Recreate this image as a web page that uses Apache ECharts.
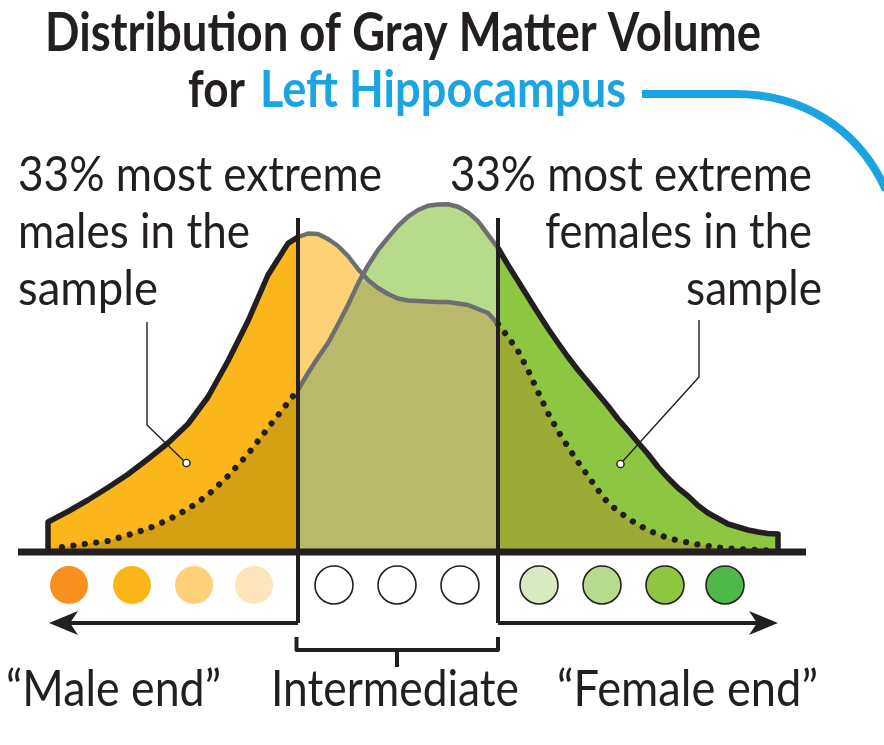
<!DOCTYPE html>
<html><head><meta charset="utf-8">
<script src="https://cdn.jsdelivr.net/npm/echarts@6/dist/echarts.min.js"></script>
<style>html,body{margin:0;padding:0;background:#fff}#c{width:884px;height:745px}</style>
</head><body><div id="c"></div>
<script>
// ---- data ----
const volume = [0,2,4,6,8,10,12,14,16,18,20,22,24,
  25,26,27,28,29,30,31,32,33,34,35,36,37,38,39,40,41,42,43,44,45,46,47,48,49,
  50,51,52,53,54,55,56,57,58,59,60,61,62,63,64,65,66,67,68,69,70,71,72,73];
const maleDensity = [29,39.5,51,63.5,76.7,92,108,127,154,190,230,276,307.6,
  314,317.5,317,312,305,295,282,271,263,257,252.5,250.5,250,249.5,249,249,247.5,246,242,238,227,214,200,181,159,
  138,120,104,89,75,61,48,40,32.5,26.5,21,16.5,13,10.5,8.5,6.5,5,3.5,2.5,2,1.5,1,0.5,0.3];
const femaleDensity = [2,4.8,7.4,10,16,22.3,31,42,56,75,97,123,148.5,
  161,178,193.4,208,226.5,246,267.4,285.6,301,313.4,325,334.3,341,345.2,346.4,346.8,344.3,338.6,329.8,316.3,303,286,270,254,238,
  222.5,208,194,181,169,157,145,132,120.5,108.5,97,84,73,63,55,45.5,38,32.5,27,24,21,19,17.5,17];
const cutLow = 25, cutHigh = 45;           // 33% most extreme boundaries
const scaleDots = [2.1,8.4,14.6,20.6, 28.6,34.9,41.2, 49.1,55.4,61.7,67.7];
const dotColors = ['#F7901E','#FBB518','#FED07A','#FEE6BC','#FFFFFF','#FFFFFF','#FFFFFF','#D9EAC0','#B8DA8E','#8DC63F','#4FB848'];
const dotStroke = [null,null,null,null,'#231F20','#231F20','#231F20','#231F20','#231F20','#231F20','#231F20'];
const titleLine1 = 'Distribution of Gray Matter Volume';
const titleFor = 'for';
const titleRegion = 'Left Hippocampus';
const maleNote = ['33% most extreme','males in the','sample'];
const femaleNote = ['33% most extreme','females in the','sample'];
const endLabels = ['\u201CMale end\u201D','Intermediate','\u201CFemale end\u201D'];

// ---- helpers ----
const minDensity = volume.map((_, i) => Math.min(maleDensity[i], femaleDensity[i]));
function interp(arr, x) {
  for (let i = 0; i < volume.length - 1; i++) {
    if (x >= volume[i] && x <= volume[i + 1]) {
      const t = (x - volume[i]) / (volume[i + 1] - volume[i]);
      return arr[i] + t * (arr[i + 1] - arr[i]);
    }
  }
  return arr[arr.length - 1];
}
function seg(arr, a, b) {
  const pts = [[a, interp(arr, a)]];
  for (let i = 0; i < volume.length; i++) if (volume[i] > a && volume[i] < b) pts.push([volume[i], arr[i]]);
  pts.push([b, interp(arr, b)]);
  return pts;
}
const INK = '#231F20', GRAY = '#6D6E71', BLUE = '#1AA5E2';

function renderItem(params, api) {
  const P = (x, y) => api.coord([x, y]);
  const ch = [];
  const poly = (pts, fill) => ch.push({ type: 'polygon', shape: { points: pts }, style: { fill: fill } });
  const line = (pts, stroke, w, dash) => ch.push({ type: 'polyline', shape: { points: pts },
    style: { stroke: stroke, lineWidth: w, fill: null, lineDash: dash || null, lineCap: dash ? 'round' : 'butt', lineJoin: 'round' } });
  const area = (arr, a, b) => [P(a, 0)].concat(seg(arr, a, b).map(p => P(p[0], p[1])), [P(b, 0)]);
  const curve = (arr, a, b) => seg(arr, a, b).map(p => P(p[0], p[1]));
  const x0 = volume[0], x1 = volume[volume.length - 1];
  // fills
  poly(area(maleDensity, x0, cutLow), '#FBB61B');
  poly(area(femaleDensity, x0, cutLow), '#D5A114');
  poly(area(maleDensity, cutLow, cutHigh), '#FDD275');
  poly(area(femaleDensity, cutLow, cutHigh), '#B7DB8B');
  poly(area(minDensity, cutLow, cutHigh), '#B8BA6A');
  poly(area(femaleDensity, cutHigh, x1), '#8DC641');
  poly(area(maleDensity, cutHigh, x1), '#9CAA36');
  // outlines
  const dots = [0.01, 11.5];
  line(curve(femaleDensity, 1.4, cutLow), INK, 6.2, dots);
  line(curve(maleDensity, cutHigh, 72), INK, 6.2, dots);
  line(curve(maleDensity, cutLow, cutHigh), GRAY, 4.5);
  line(curve(femaleDensity, cutLow, cutHigh), GRAY, 4.5);
  line([P(x0, 0)].concat(curve(maleDensity, x0, cutLow)), INK, 5.5);
  line(curve(femaleDensity, cutHigh, x1).concat([P(x1, 0)]), INK, 5.5);
  // dividers and baseline
  line([P(cutLow, 333), P(cutLow, -72)], INK, 4);
  line([P(cutHigh, 333), P(cutHigh, -72)], INK, 4);
  line([P(-3, -1), P(75.8, -1)], INK, 7);
  // scale dots
  scaleDots.forEach((x, i) => {
    const c = P(x, -34);
    ch.push({ type: 'circle', shape: { cx: c[0], cy: c[1], r: 19 },
      style: { fill: dotColors[i], stroke: dotStroke[i], lineWidth: dotStroke[i] ? 1.6 : 0 } });
  });
  // arrows
  const yA = -72;
  line([P(cutLow, yA), P(2.2, yA)], INK, 4);
  line([P(cutHigh, yA), P(71.5, yA)], INK, 4);
  const tl = P(0.1, yA), tr = P(73, yA);
  poly([tl, [tl[0] + 29, tl[1] - 12], [tl[0] + 21, tl[1]], [tl[0] + 29, tl[1] + 12]], INK);
  poly([tr, [tr[0] - 29, tr[1] - 12], [tr[0] - 21, tr[1]], [tr[0] - 29, tr[1] + 12]], INK);
  // bracket
  line([P(cutLow - 0.15, -86), P(cutLow - 0.15, -99), P(cutHigh, -99), P(cutHigh, -86)], INK, 4);
  line([P((cutLow + cutHigh) / 2 - 0.1, -99), P((cutLow + cutHigh) / 2 - 0.1, -116)], INK, 4);
  // leaders
  line([P(9.9, 229), P(9.9, 126), P(13.6, 90)], INK, 1.4);
  line([P(65.1, 231), P(65.1, 174), P(57.5, 90)], INK, 1.4);
  [[13.85, 88], [57.25, 87]].forEach(q => {
    const c = P(q[0], q[1]);
    ch.push({ type: 'circle', shape: { cx: c[0], cy: c[1], r: 3.6 }, style: { fill: '#fff', stroke: INK, lineWidth: 1.4 } });
  });
  return { type: 'group', children: ch };
}

// ---- text fitting ----
const mctx = document.createElement('canvas').getContext('2d');
function txt(s, x, base, w, size, weight, fill, align) {
  const font = (weight || 'normal') + ' ' + size + 'px Lato';
  mctx.font = font;
  const sx = w / mctx.measureText(s).width;
  return { type: 'text', x: x, y: base - 0.37 * size, scaleX: sx, silent: true,
    style: { text: s, x: 0, y: 0, font: font, fill: fill || INK, textAlign: align || 'left', textVerticalAlign: 'middle' } };
}
const graphics = [
  txt(titleLine1, 45, 54, 716, 54, 'bold'),
  txt(titleFor, 188, 109, 57, 52, 'bold'),
  txt(titleRegion, 260, 109, 366, 52, 'bold', BLUE),
  txt(maleNote[0], 18, 193, 364, 48),
  txt(maleNote[1], 18, 250, 232, 48),
  txt(maleNote[2], 18, 307, 140, 48),
  txt(femaleNote[0], 812, 193, 362, 48, 'normal', INK, 'right'),
  txt(femaleNote[1], 812, 250, 267, 48, 'normal', INK, 'right'),
  txt(femaleNote[2], 822, 307, 136, 48, 'normal', INK, 'right'),
  txt(endLabels[0], 6, 708, 215, 50),
  txt(endLabels[1], 271, 708, 248, 50),
  txt(endLabels[2], 557, 708, 261, 50),
  { type: 'line', silent: true, shape: { x1: 642, y1: 94, x2: 736, y2: 94 },
    style: { stroke: BLUE, lineWidth: 8 } },
  { type: 'bezierCurve', silent: true, shape: { x1: 735, y1: 94, cpx1: 800, cpy1: 94, cpx2: 857, cpy2: 126, x2: 886, y2: 190 },
    style: { stroke: BLUE, lineWidth: 8, fill: null } }
];

const chart = echarts.init(document.getElementById('c'), null, { renderer: 'canvas' });
chart.setOption({
  animation: false,
  backgroundColor: '#fff',
  grid: { left: 48, right: 106, top: 0, bottom: 0 },
  xAxis: { type: 'value', min: 0, max: 73, show: false },
  yAxis: { type: 'value', min: -194, max: 551, show: false },
  series: [{ type: 'custom', renderItem: renderItem, data: [[0, 0]], clip: false, silent: true }],
  graphic: graphics
});
</script></body></html>
